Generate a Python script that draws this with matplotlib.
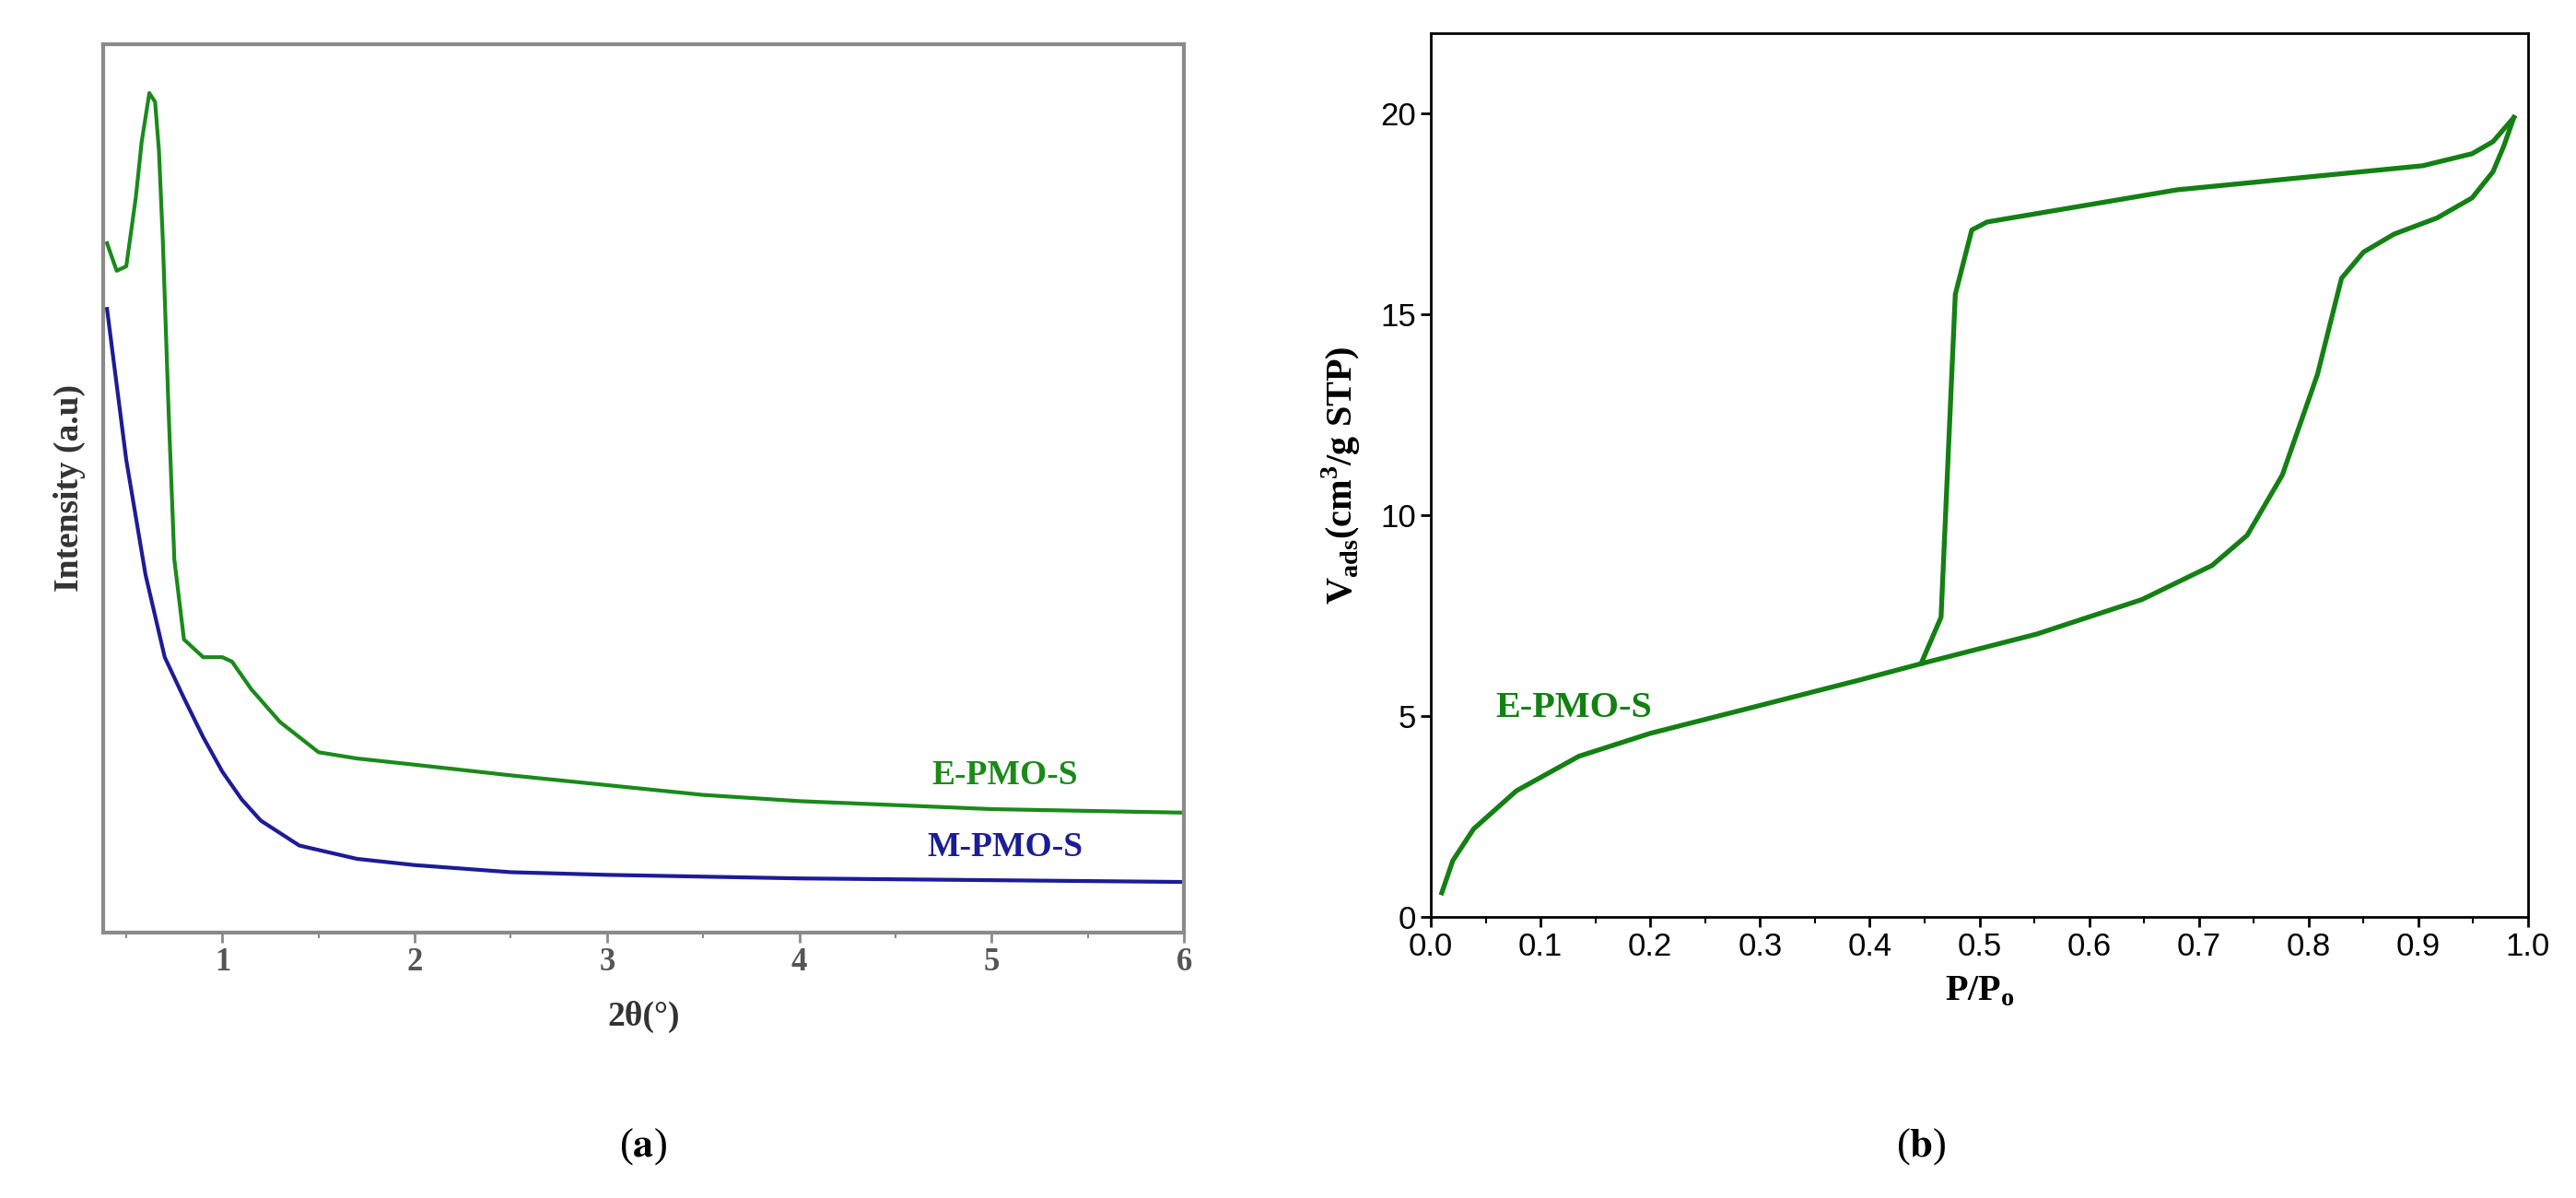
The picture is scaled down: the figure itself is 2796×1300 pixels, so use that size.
import matplotlib
matplotlib.use("Agg")
import matplotlib.pyplot as plt
from matplotlib.ticker import MultipleLocator

# Panel (a): XRD (relative intensity, a.u.)
xrd_x_e = [0.4, 0.45, 0.5, 0.55, 0.58, 0.62, 0.65, 0.67, 0.69, 0.72, 0.75, 0.8, 0.9, 1.0, 1.05, 1.15, 1.3, 1.5, 1.7, 2.0, 2.5, 3.0, 3.5, 4.0, 5.0, 6.0]
xrd_y_e = [77.6, 74.5, 75.0, 82.8, 89.0, 94.5, 93.5, 88.0, 78.0, 58.8, 42.0, 33.0, 31.0, 31.0, 30.5, 27.4, 23.7, 20.3, 19.6, 18.9, 17.7, 16.6, 15.5, 14.8, 13.9, 13.5]
xrd_x_m = [0.4, 0.5, 0.6, 0.7, 0.8, 0.9, 1.0, 1.1, 1.2, 1.4, 1.7, 2.0, 2.5, 3.0, 4.0, 6.0]
xrd_y_m = [70.2, 53.2, 40.3, 31.0, 26.4, 22.0, 18.1, 15.0, 12.6, 9.8, 8.3, 7.6, 6.8, 6.5, 6.1, 5.7]

# Panel (b): N2 isotherm
ads_x = [0.01, 0.02, 0.039, 0.078, 0.135, 0.2, 0.295, 0.391, 0.449, 0.552, 0.648, 0.712, 0.744, 0.776, 0.808, 0.83, 0.85, 0.878, 0.917, 0.949, 0.968, 0.978, 0.987]
ads_y = [0.6, 1.4, 2.19, 3.14, 4.0, 4.57, 5.23, 5.9, 6.32, 7.04, 7.9, 8.75, 9.5, 11.0, 13.5, 15.9, 16.55, 17.0, 17.4, 17.9, 18.55, 19.2, 19.9]
des_x = [0.987, 0.968, 0.949, 0.904, 0.68, 0.507, 0.493, 0.478, 0.465, 0.447]
des_y = [19.9, 19.3, 19.0, 18.7, 18.1, 17.3, 17.1, 15.5, 7.46, 6.32]

W, H = 2796, 1300
fig = plt.figure(figsize=(W/100, H/100), dpi=100)
serif = ['Liberation Serif', 'DejaVu Serif']
sans = ['Liberation Sans', 'DejaVu Sans']
green = '#1a8a1a'
dgreen = '#138013'
blue = '#1c1c96'

# ---- (a)
axa = fig.add_axes([112/W, 1-1012/H, (1285-112)/W, (1012-48)/H])
axa.plot(xrd_x_e, xrd_y_e, color=green, lw=3)
axa.plot(xrd_x_m, xrd_y_m, color=blue, lw=3)
axa.set_xlim(0.38, 6)
axa.set_ylim(0, 100)
axa.set_yticks([])
axa.xaxis.set_major_locator(MultipleLocator(1))
axa.xaxis.set_minor_locator(MultipleLocator(0.5))
for s in axa.spines.values():
    s.set_color('#8a8a8a'); s.set_linewidth(3)
axa.tick_params(axis='x', which='major', direction='out', length=8, width=2, color='#8a8a8a', labelsize=25)
axa.tick_params(axis='x', which='minor', direction='out', length=4, width=1.5, color='#8a8a8a')
for t in axa.get_xticklabels():
    t.set_family(serif); t.set_fontweight('bold'); t.set_color('#555555')
axa.set_xlabel('2θ(°)', fontsize=27, fontweight='bold', family=serif, color='#333333', labelpad=18)
axa.set_ylabel('Intensity (a.u)', fontsize=27, fontweight='bold', family=serif, color='#333333', labelpad=14)
axa.text(5.07, 17.7, 'E-PMO-S', color=green, fontsize=27, fontweight='bold', family=serif, ha='center', va='center')
axa.text(5.07, 9.6, 'M-PMO-S', color=blue, fontsize=27, fontweight='bold', family=serif, ha='center', va='center')
fig.text(698/W, 1-1244/H, r'($\mathbf{a}$)', fontsize=32, family=serif, math_fontfamily='stix', ha='center', va='center')

# ---- (b)
axb = fig.add_axes([1553/W, 1-995/H, (2744-1553)/W, (995-36)/H])
axb.plot(ads_x, ads_y, color=dgreen, lw=3.8)
axb.plot(des_x, des_y, color=dgreen, lw=3.8)
axb.set_xlim(0, 1.0)
axb.set_ylim(0, 22)
axb.xaxis.set_major_locator(MultipleLocator(0.1))
axb.xaxis.set_minor_locator(MultipleLocator(0.05))
axb.yaxis.set_major_locator(MultipleLocator(5))
axb.set_xticklabels([f'{v:.1f}' for v in axb.get_xticks()])
for s in axb.spines.values():
    s.set_linewidth(2)
axb.tick_params(axis='both', which='major', direction='out', length=8, width=2, labelsize=25)
axb.tick_params(axis='x', which='minor', direction='out', length=5, width=1.5)
for t in axb.get_xticklabels() + axb.get_yticklabels():
    t.set_family(sans)
axb.set_xlabel('P/P$_\\mathregular{o}$', fontsize=29, fontweight='bold', family=serif, labelpad=10)
axb.set_ylabel('V$_\\mathregular{ads}$(cm$^\\mathregular{3}$/g STP)', fontsize=29, fontweight='bold', family=serif, labelpad=14)
axb.text(0.13, 5.2, 'E-PMO-S', color=dgreen, fontsize=29, fontweight='bold', family=serif, ha='center', va='center')
fig.text(2085/W, 1-1244/H, r'($\mathbf{b}$)', fontsize=32, family=serif, math_fontfamily='stix', ha='center', va='center')

fig.savefig('out.png', dpi=100)
